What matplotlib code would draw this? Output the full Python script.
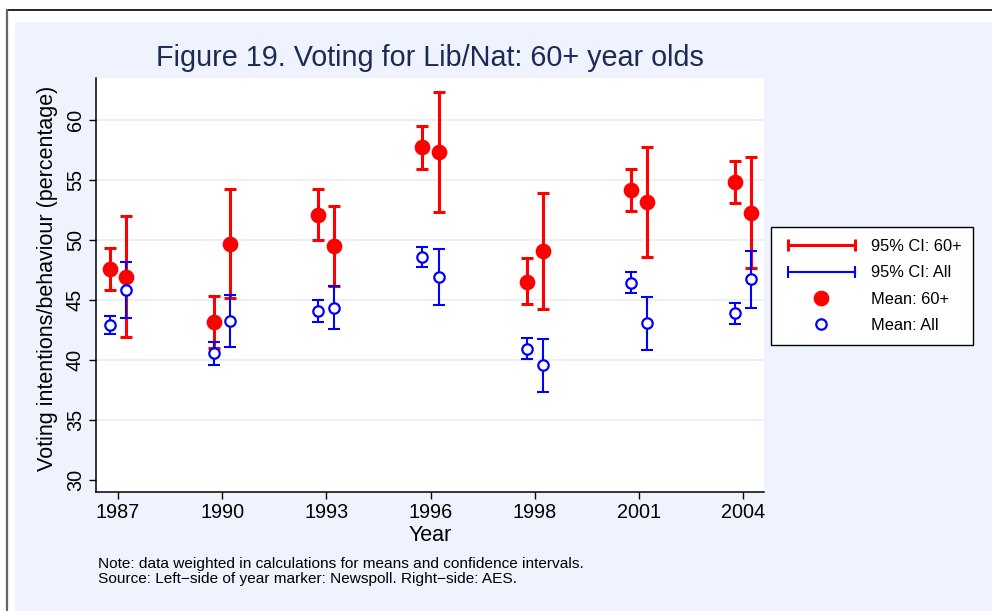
import matplotlib
matplotlib.use("Agg")
import matplotlib.pyplot as plt
import numpy as np
from matplotlib.lines import Line2D
from matplotlib.patches import Rectangle
from matplotlib.legend_handler import HandlerLine2D

plt.rcParams['font.family'] = ['Liberation Sans', 'DejaVu Sans']

years = ["1987", "1990", "1993", "1996", "1998", "2001", "2004"]

# Newspoll (left of year marker)
np_60_mean = [47.58, 43.14, 52.11, 57.72, 46.53, 54.17, 54.81]
np_60_lo   = [45.86, 40.97, 50.03, 55.94, 44.64, 52.39, 53.06]
np_60_hi   = [49.33, 45.33, 54.22, 59.53, 48.47, 55.92, 56.56]
np_all_mean = [42.92, 40.56, 44.11, 48.61, 40.94, 46.44, 43.89]
np_all_lo   = [42.14, 39.61, 43.19, 47.75, 40.06, 45.61, 43.00]
np_all_hi   = [43.67, 41.47, 45.00, 49.44, 41.81, 47.31, 44.75]

# AES (right of year marker)
aes_60_mean = [46.94, 49.69, 49.50, 57.36, 49.06, 53.14, 52.28]
aes_60_lo   = [41.92, 45.17, 46.19, 52.36, 44.22, 48.58, 47.64]
aes_60_hi   = [52.00, 54.25, 52.81, 62.36, 53.92, 57.72, 56.94]
aes_all_mean = [45.83, 43.25, 44.33, 46.92, 39.56, 43.06, 46.72]
aes_all_lo   = [43.50, 41.08, 42.56, 44.58, 37.31, 40.81, 44.31]
aes_all_hi   = [48.14, 45.39, 46.14, 49.25, 41.78, 45.25, 49.11]

yticks = [30, 35, 40, 45, 50, 55, 60]

W, H = 992, 611
fig = plt.figure(figsize=(W / 100, H / 100), dpi=100, facecolor='white')

BG = '#eef3fd'
fig.patches.append(Rectangle((15 / W, 0), 1 - 15 / W, (H - 22) / H,
                             transform=fig.transFigure, facecolor=BG,
                             edgecolor='none', zorder=-10))
fig.lines.append(Line2D([7 / W, 1], [(H - 10) / H] * 2, transform=fig.transFigure,
                        color='black', lw=1.2))
fig.lines.append(Line2D([7 / W] * 2, [0, (H - 10) / H], transform=fig.transFigure,
                        color='#666666', lw=1.6))

ax = fig.add_axes([96 / W, (H - 492) / H, (764 - 96) / W, (492 - 78) / H])
ax.set_facecolor('white')

pos = np.arange(1, len(years) + 1)
off = 0.077
xl = pos - off
xr = pos + off

RED = '#ff0000'
BLUE = '#0000ff'


def ci(x, lo, hi, color, lw, z):
    lo = np.asarray(lo)
    hi = np.asarray(hi)
    mid = (lo + hi) / 2
    ax.errorbar(x, mid, yerr=[mid - lo, hi - mid], fmt='none', ecolor=color,
                elinewidth=lw, capsize=4, capthick=lw, zorder=z)


ci(xl, np_60_lo, np_60_hi, RED, 2.2, 3)
ci(xr, aes_60_lo, aes_60_hi, RED, 2.2, 3)
ci(xl, np_all_lo, np_all_hi, BLUE, 1.5, 4)
ci(xr, aes_all_lo, aes_all_hi, BLUE, 1.5, 4)
ax.plot(xl, np_60_mean, 'o', color=RED, ms=10.3, zorder=5)
ax.plot(xr, aes_60_mean, 'o', color=RED, ms=10.3, zorder=5)
ax.plot(xl, np_all_mean, 'o', mfc='white', mec=BLUE, mew=1.6, ms=7.5, zorder=6)
ax.plot(xr, aes_all_mean, 'o', mfc='white', mec=BLUE, mew=1.6, ms=7.5, zorder=6)

ax.set_xlim(0.79, 7.2)
ax.set_ylim(29.0, 63.5)
ax.set_xticks(pos)
ax.set_xticklabels(years)
ax.set_yticks(yticks)
ax.set_yticklabels([str(v) for v in yticks], rotation=90, va='center')
for v in yticks[1:]:
    ax.axhline(v, color='#e8eef2', lw=1.2, zorder=1)

for s in ['top', 'right']:
    ax.spines[s].set_visible(False)
for s in ['left', 'bottom']:
    ax.spines[s].set_linewidth(1.1)
ax.tick_params(axis='both', direction='out', length=5, width=1.0,
               labelsize=14.3, colors='black')
ax.tick_params(axis='y', pad=3)
ax.tick_params(axis='x', pad=3)
ax.set_xlabel('Year', fontsize=15.5, labelpad=2)
ax.set_ylabel('Voting intentions/behaviour (percentage)', fontsize=15.5)
ax.yaxis.set_label_coords(-0.073, 0.515)
ax.yaxis.label.set_verticalalignment('center')

fig.text(430 / W, 1 - 58 / H, 'Figure 19. Voting for Lib/Nat: 60+ year olds',
         ha='center', va='center', fontsize=20.7, color='#1c2b55')
fig.text(98 / W, 1 - 564 / H,
         'Note: data weighted in calculations for means and confidence intervals.',
         ha='left', va='center', fontsize=11.1)
fig.text(98 / W, 1 - 579 / H,
         'Source: Left\u2212side of year marker: Newspoll. Right\u2212side: AES.',
         ha='left', va='center', fontsize=11.1)

h1 = Line2D([], [], color=RED, lw=2.2, marker='|', ms=9, mew=2.2)
h2 = Line2D([], [], color=BLUE, lw=1.5, marker='|', ms=9, mew=1.5)
h3 = Line2D([], [], ls='none', marker='o', color=RED, ms=10.3)
h4 = Line2D([], [], ls='none', marker='o', mfc='white', mec=BLUE, mew=1.6, ms=7.5)
leg = fig.legend([h1, h2, h3, h4],
                 ['95% CI: 60+', '95% CI: All', 'Mean: 60+', 'Mean: All'],
                 loc='upper left', bbox_to_anchor=(771 / W, 1 - 227 / H),
                 fontsize=11.8, frameon=True, fancybox=False, edgecolor='black',
                 facecolor='white', framealpha=1, handlelength=4.7,
                 handletextpad=0.67, labelspacing=0.7, borderpad=0.72,
                 borderaxespad=0,
                 handler_map={h1: HandlerLine2D(numpoints=2),
                              h2: HandlerLine2D(numpoints=2),
                              h3: HandlerLine2D(numpoints=1),
                              h4: HandlerLine2D(numpoints=1)})
leg.get_frame().set_linewidth(1.0)

fig.savefig('out.png', dpi=100, facecolor='white')
